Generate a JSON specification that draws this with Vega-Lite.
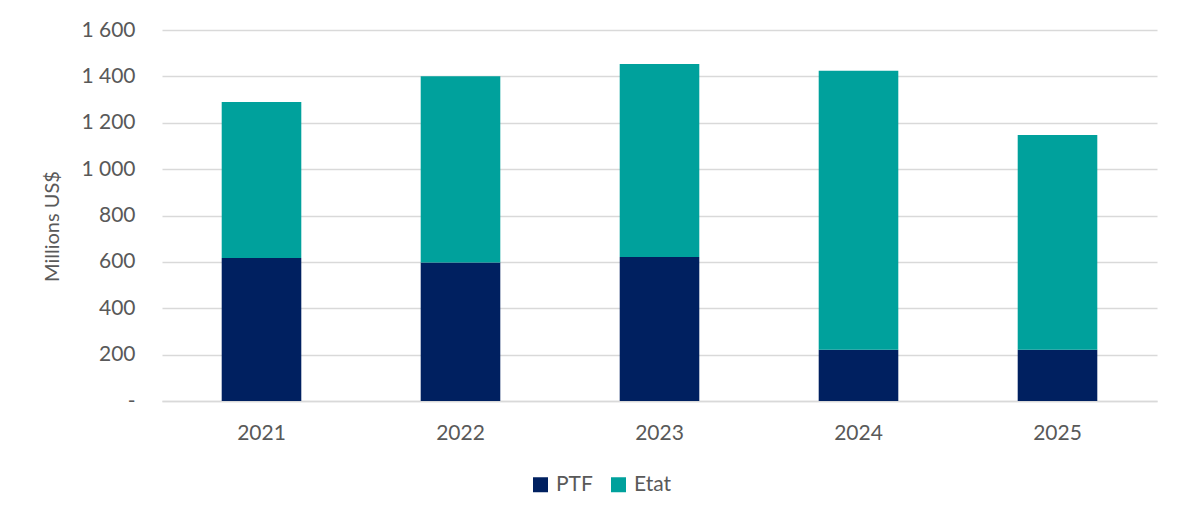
{
  "$schema": "https://vega.github.io/schema/vega-lite/v6.json",
  "width": 995,
  "height": 371,
  "autosize": {"type": "none"},
  "padding": {"left": 162, "top": 30, "right": 28, "bottom": 121},
  "background": "white",
  "config": {
    "font": "Lato",
    "view": {"stroke": null}
  },
  "data": {
    "values": [
      {"year": "2021", "series": "PTF", "o": 1, "value": 617},
      {"year": "2021", "series": "Etat", "o": 2, "value": 672},
      {"year": "2022", "series": "PTF", "o": 1, "value": 597},
      {"year": "2022", "series": "Etat", "o": 2, "value": 804},
      {"year": "2023", "series": "PTF", "o": 1, "value": 621},
      {"year": "2023", "series": "Etat", "o": 2, "value": 832},
      {"year": "2024", "series": "PTF", "o": 1, "value": 221},
      {"year": "2024", "series": "Etat", "o": 2, "value": 1203},
      {"year": "2025", "series": "PTF", "o": 1, "value": 221},
      {"year": "2025", "series": "Etat", "o": 2, "value": 926}
    ]
  },
  "mark": {"type": "bar"},
  "encoding": {
    "x": {
      "field": "year",
      "type": "nominal",
      "scale": {"paddingInner": 0.6, "paddingOuter": 0.3},
      "axis": {
        "title": null,
        "labelAngle": 0,
        "labelFontSize": 21,
        "labelColor": "#595959",
        "labelPadding": 21,
        "ticks": false,
        "domainColor": "#d9d9d9",
        "domainWidth": 1.5
      }
    },
    "y": {
      "field": "value",
      "type": "quantitative",
      "stack": "zero",
      "scale": {"domain": [0, 1600]},
      "axis": {
        "title": "Millions US$",
        "titleFontSize": 20,
        "titleFontWeight": "normal",
        "titleColor": "#595959",
        "titleX": -110,
        "titleY": 196,
        "titleAngle": 270,
        "titleAlign": "center",
        "titleBaseline": "middle",
        "values": [0, 200, 400, 600, 800, 1000, 1200, 1400, 1600],
        "labelExpr": "datum.value == 0 ? '-' : replace(format(datum.value, ','), ',', ' ')",
        "labelFontSize": 21,
        "labelColor": "#595959",
        "labelPadding": 27,
        "ticks": false,
        "domain": false,
        "gridColor": "#d9d9d9",
        "gridWidth": 1.5
      }
    },
    "color": {
      "field": "series",
      "type": "nominal",
      "sort": ["PTF", "Etat"],
      "scale": {"domain": ["PTF", "Etat"], "range": ["#002060", "#00A19C"]},
      "legend": {
        "title": null,
        "orient": "none",
        "direction": "horizontal",
        "legendX": 368,
        "legendY": 444,
        "symbolType": "square",
        "symbolSize": 225,
        "symbolStrokeWidth": 0,
        "labelFontSize": 21,
        "labelColor": "#595959",
        "labelOffset": 5,
        "columnPadding": 15
      }
    },
    "order": {"field": "o", "type": "quantitative"}
  }
}
